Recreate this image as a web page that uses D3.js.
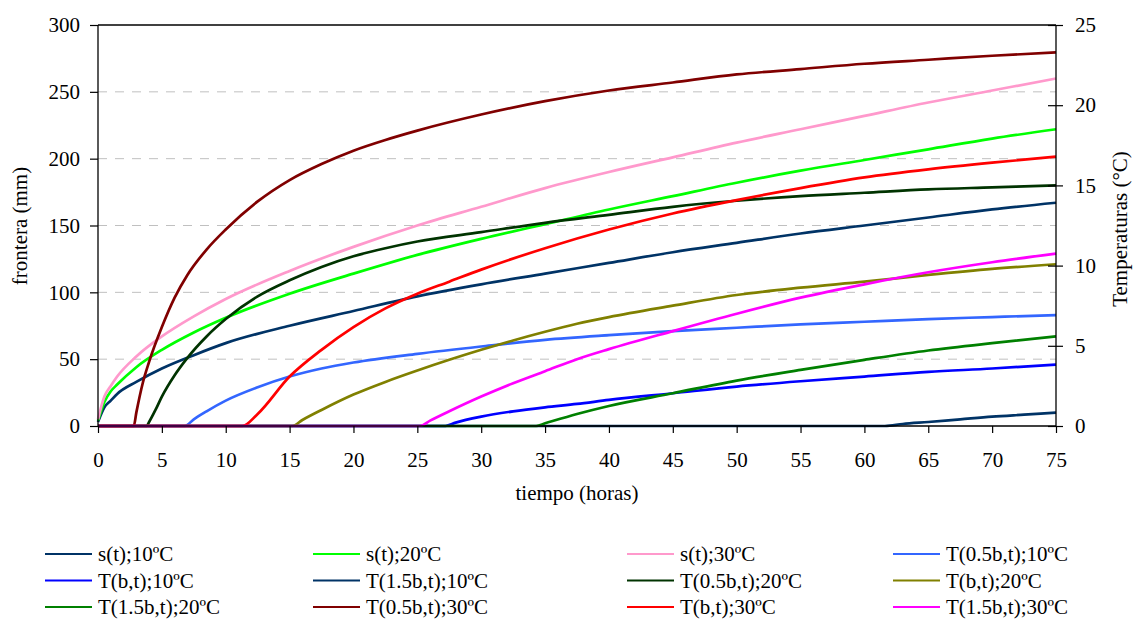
<!DOCTYPE html>
<html>
<head>
<meta charset="utf-8">
<script src="https://cdn.jsdelivr.net/npm/d3@7"></script>
<style>
  html, body { margin: 0; padding: 0; background: #fff; }
  svg { display: block; }
  text { font-family: "Liberation Serif", "Times New Roman", serif; fill: #000; }
</style>
</head>
<body>
<svg id="chart" width="1136" height="621"></svg>
<script>
// Frontera (mm) over time (hours): [hour, mm] pairs per series
const s10 = [[0,3],[0.5,14],[1,19],[1.5,24],[3,33],[5,43],[7.5,53],[10,62],[15,75],[20,86],[25,97],[30,106],[35,114],[40,122],[45,130],[50,137],[55,144],[60,150],[65,156],[70,162],[75,167]];
const s20 = [[0,4],[0.5,18],[1,26],[1.5,31],[3,44],[5,57],[7.5,70],[10,81],[15,99],[20,114],[25,128],[30,140],[35,151],[40,162],[45,172],[50,182],[55,191],[60,199],[65,207],[70,215],[75,222]];
const s30 = [[0,5],[0.5,22],[1,30],[1.5,37],[3,52],[5,67],[7.5,82],[10,95],[15,116],[20,134],[25,150],[30,164],[35,178],[40,190],[45,201],[50,212],[55,222],[60,232],[65,242],[70,251],[75,260]];
const t05b10 = [[0,0],[6.8,0],[7.5,5],[8.5,11],[10,19],[12.5,29],[15,37],[17.5,43],[20,47.5],[25,54],[30,59.5],[35,64.5],[40,68],[45,71],[50,73.5],[55,76],[60,78],[65,80],[70,81.5],[75,83]];
const tb10 = [[0,0],[27.2,0],[28,2.5],[30,7],[32.5,11],[35,14],[37.5,16.5],[40,19.5],[45,24.5],[50,29.5],[55,33.5],[60,37],[65,40.5],[70,43],[75,46]];
const t15b10 = [[0,0],[61.6,0],[63,1.5],[65,3],[67.5,5],[70,7],[72.5,8.5],[75,10]];
const t05b20 = [[0,0],[3.8,0],[4,3],[4.5,12],[5,22],[6,38],[7,51],[8.5,67],[10,80],[12.5,97],[15,109],[17.5,119],[20,127],[22.5,133],[25,138],[30,145],[35,152],[40,158],[45,164],[50,168.5],[55,172],[60,174.5],[65,177],[70,178.5],[75,180]];
const tb20 = [[0,0],[15.2,0],[16,4.5],[17.5,12],[20,23.5],[22.5,33],[25,41.5],[27.5,49.5],[30,57],[32.5,64],[35,70.5],[37.5,76.5],[40,81.5],[45,90],[50,98],[55,103.5],[60,108],[65,113],[70,117.5],[75,121]];
const t15b20 = [[0,0],[34.3,0],[35,2],[37.5,9],[40,15],[45,24.5],[50,34],[55,42],[60,49.5],[65,56.5],[70,62],[75,67]];
const t05b30 = [[0,0],[2.8,0],[3,10],[3.5,32],[4,48],[5,74],[6,96],[7,113],[8.5,132],[10,147],[12.5,168],[15,184],[17.5,196],[20,206],[22.5,214],[25,221],[30,233],[35,243],[40,251],[45,257],[50,263],[55,267],[60,271],[65,274],[70,277],[75,279.5]];
const tb30 = [[0,0],[11.3,0],[12.5,9],[15,37],[17.5,57],[20,74],[22.5,88],[25,99],[27.5,108],[30,117],[35,133],[40,147],[45,159],[50,169],[55,178],[60,186],[65,192],[70,197],[75,201.5]];
const t15b30 = [[0,0],[25.2,0],[26,4],[27.5,11],[30,22],[32.5,32],[35,41],[37.5,50],[40,57.5],[45,71],[50,84],[55,96],[60,106],[65,115],[70,122.5],[75,129]];

const seriesNames = ["s(t);10ºC","s(t);20ºC","s(t);30ºC","T(0.5b,t);10ºC","T(b,t);10ºC","T(1.5b,t);10ºC","T(0.5b,t);20ºC","T(b,t);20ºC","T(1.5b,t);20ºC","T(0.5b,t);30ºC","T(b,t);30ºC","T(1.5b,t);30ºC"];
const seriesData = [s10, s20, s30, t05b10, tb10, t15b10, t05b20, tb20, t15b20, t05b30, tb30, t15b30];
const seriesColors = ["#003366","#00ff00","#ff99cc","#3366ff","#0000ff","#003366","#003300","#808000","#008000","#800000","#ff0000","#ff00ff"];

const xTicks = d3.range(0, 76, 5);
const yTicks = [0, 50, 100, 150, 200, 250, 300];
const tempTicks = [0, 5, 10, 15, 20, 25];

const xTitle = "tiempo (horas)";
const yTitle = "frontera (mm)";
const y2Title = "Temperaturas (°C)";

const svg = d3.select("#chart");
const m = { left: 98, right: 1056, top: 25, bottom: 426 };

const x = d3.scaleLinear().domain([0, 75]).range([m.left, m.right]);
const y = d3.scaleLinear().domain([0, 300]).range([m.bottom, m.top]);
const y2 = d3.scaleLinear().domain([0, 25]).range([m.bottom, m.top]);

// dashed horizontal gridlines
svg.append("g").selectAll("line")
  .data(yTicks.filter(d => d > 0 && d < 300))
  .join("line")
  .attr("x1", m.left).attr("x2", m.right)
  .attr("y1", d => y(d)).attr("y2", d => y(d))
  .attr("stroke", "#c0c0c0").attr("stroke-width", 1)
  .attr("stroke-dasharray", "9,8");

// series lines
const line = d3.line().x(d => x(d[0])).y(d => y(d[1])).curve(d3.curveMonotoneX);
svg.append("g").selectAll("path")
  .data(seriesData)
  .join("path")
  .attr("d", line)
  .attr("fill", "none")
  .attr("stroke", (d, i) => seriesColors[i])
  .attr("stroke-width", 2.7)
  .attr("stroke-linejoin", "round");

// frame
svg.append("line").attr("x1", m.left).attr("x2", m.right).attr("y1", m.top).attr("y2", m.top)
  .attr("stroke", "#000").attr("stroke-width", 1.3);

// left axis
const gL = svg.append("g").attr("transform", `translate(${m.left},0)`)
  .call(d3.axisLeft(y).tickValues(yTicks).tickSize(8).tickPadding(10));
// right axis
const gR = svg.append("g").attr("transform", `translate(${m.right},0)`)
  .call(d3.axisRight(y2).tickValues(tempTicks).tickSize(7).tickPadding(12));
gR.selectAll(".tick line").attr("x1", -8).attr("x2", 7);
// bottom axis
const gB = svg.append("g").attr("transform", `translate(0,${m.bottom})`)
  .call(d3.axisBottom(x).tickValues(xTicks).tickSize(7));
gB.selectAll(".tick text").attr("y", 41).attr("dy", 0);

[gL, gR, gB].forEach(g => {
  g.attr("font-family", null);
  g.selectAll(".domain").attr("stroke", "#000").attr("stroke-width", 1.3);
  g.selectAll(".tick line").attr("stroke", "#000").attr("stroke-width", 1.2);
  g.selectAll(".tick text").attr("font-size", 21).attr("fill", "#000");
});
gL.select(".domain").attr("d", `M0,${m.top}V${m.bottom}`);
gR.select(".domain").attr("d", `M0,${m.top}V${m.bottom}`);
gB.select(".domain").attr("d", `M${m.left},0H${m.right}`);

// axis titles
svg.append("text").attr("x", 577).attr("y", 500).attr("text-anchor", "middle")
  .attr("font-size", 21).text(xTitle);
svg.append("text").attr("transform", "translate(27,226) rotate(-90)").attr("text-anchor", "middle")
  .attr("font-size", 21).text(yTitle);
svg.append("text").attr("transform", "translate(1127,229) rotate(-90)").attr("text-anchor", "middle")
  .attr("font-size", 21).text(y2Title);

// legend: 4 columns x 3 rows
const legCols = [45, 313, 627, 893];
const legRows = [554, 580.5, 607];
const leg = svg.append("g").selectAll("g")
  .data(seriesNames)
  .join("g")
  .attr("transform", (d, i) => `translate(${legCols[i % 4]},${legRows[Math.floor(i / 4)]})`);
leg.append("line").attr("x1", 0).attr("x2", 47).attr("y1", 0).attr("y2", 0)
  .attr("stroke", (d, i) => seriesColors[i]).attr("stroke-width", 2);
leg.append("text").attr("x", 53).attr("y", 7).attr("font-size", 21).text(d => d);
</script>
</body>
</html>
